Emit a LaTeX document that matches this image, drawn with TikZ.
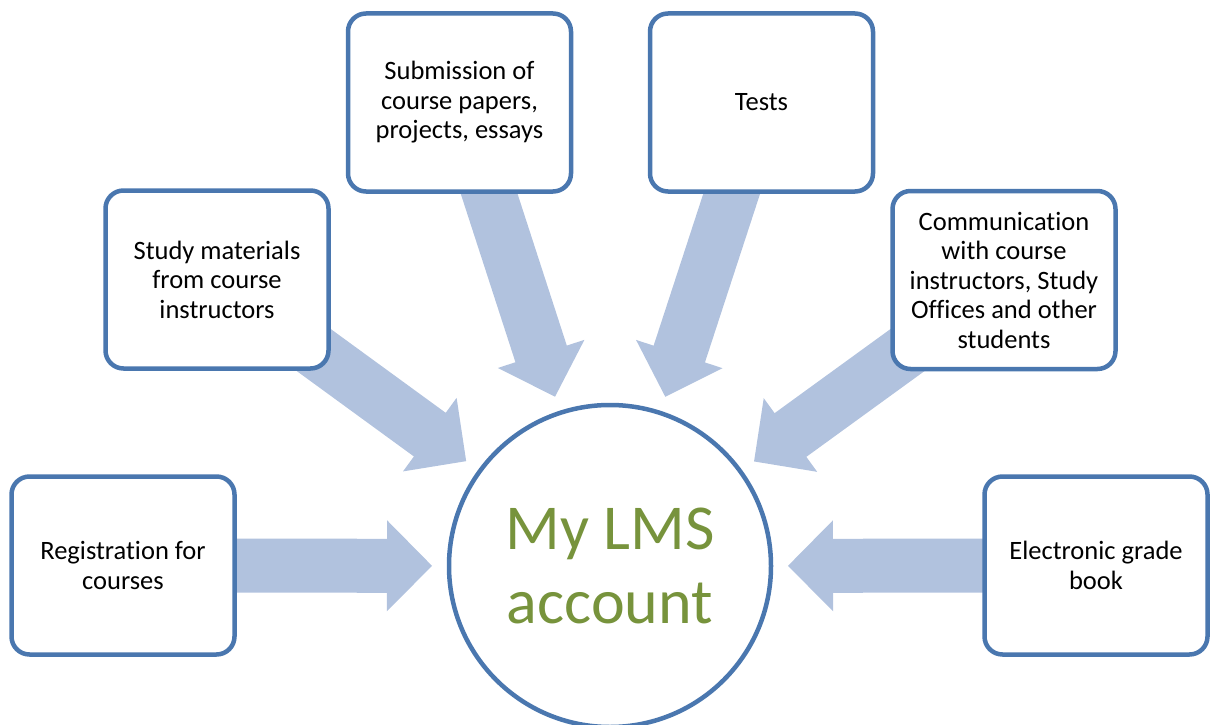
\documentclass[tikz,border=0pt]{standalone}
\usepackage{fontspec}
\setmainfont{Carlito}[Ligatures={NoCommon,NoContextual,NoRequired},Contextuals=NoAlternate]
\usetikzlibrary{calc,backgrounds}
\definecolor{boxline}{HTML}{4A77AF}
\definecolor{arrowfill}{HTML}{B1C2DE}
\definecolor{lmsgreen}{HTML}{77933C}
\tikzset{
  infobox/.style={draw=boxline, line width=4.5pt, fill=white, rounded corners=18pt,
    minimum width=223pt, minimum height=178pt, align=center, inner sep=0pt,
    font=\fontsize{26.5}{29.5}\selectfont},
  lmscircle/.style={circle, draw=boxline, line width=4.5pt, fill=white,
    minimum size=322pt, align=center, inner sep=0pt, text=lmsgreen,
    font=\fontsize{64}{74}\selectfont},
  blockarrow/.style={fill=arrowfill, draw=none}
}
% block arrow from box #1 towards the circle
\newcommand\lmsarrow[1]{%
  \path[blockarrow] let \p1=($(#1.center)-(lms.center)$), \n1={atan2(\y1,\x1)} in
    ($(lms.center)+(\n1:178pt)$)
    -- ($(lms.center)+(\n1:223pt)+(\n1+90:45.5pt)$)
    -- ($(lms.center)+(\n1:223pt)+(\n1+90:27pt)$)
    -- ($(#1.center)+(\n1+90:27pt)$)
    -- ($(#1.center)+(\n1-90:27pt)$)
    -- ($(lms.center)+(\n1:223pt)+(\n1-90:27pt)$)
    -- ($(lms.center)+(\n1:223pt)+(\n1-90:45.5pt)$)
    -- cycle;}
\begin{document}
\begin{tikzpicture}[x=1pt,y=-1pt]
\useasboundingbox (0,0) rectangle (1210,725);
\node[lmscircle] (lms) at (610,566) {My LMS\\account};
\node[infobox] (reg) at (123,565.5) {Registration for\\courses};
\node[infobox] (study) at (217,279.5) {Study materials\\from course\\instructors};
\node[infobox] (sub) at (459.5,102.5) {Submission of\\course papers,\\projects, essays};
\node[infobox] (tests) at (761.5,102.5) {Tests};
\node[infobox] (comm) at (1004,280) {Communication\\with course\\instructors, Study\\Offices and other\\students};
\node[infobox] (elec) at (1096,565.5) {Electronic grade\\book};
\begin{scope}[on background layer]
  \lmsarrow{reg}
  \lmsarrow{study}
  \lmsarrow{sub}
  \lmsarrow{tests}
  \lmsarrow{comm}
  \lmsarrow{elec}
\end{scope}
\end{tikzpicture}
\end{document}
